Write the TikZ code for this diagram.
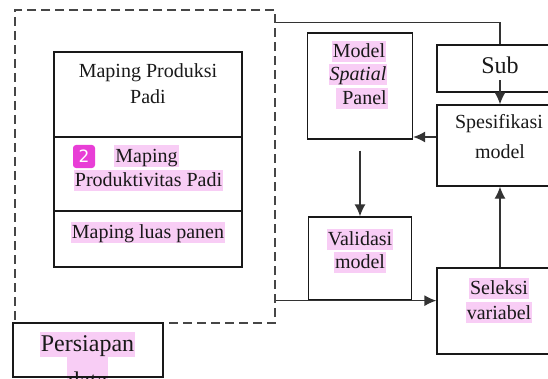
\documentclass[tikz,border=0pt]{standalone}
\usepackage{fontspec}
\setmainfont{Liberation Serif}
\newfontfamily\badgefont{DejaVu Sans}
\usetikzlibrary{arrows.meta}
\definecolor{hlpink}{RGB}{248,205,245}
\definecolor{badgepink}{RGB}{232,62,214}
\definecolor{inkgray}{RGB}{51,51,51}
\definecolor{dashgray}{RGB}{70,70,70}

\begin{document}
\begin{tikzpicture}[x=1pt,y=1pt,
  box/.style={draw=black!90, line width=1.3pt, inner sep=0pt},
  dashbox/.style={draw=dashgray, line width=1.6pt, dash pattern=on 9pt off 5pt, inner sep=0pt},
  lbl/.style={inner xsep=1pt, inner ysep=0pt, text height=17pt, text depth=4pt, font=\fontsize{20}{24}\selectfont, text=black!90},
  hl/.style={lbl, fill=hlpink},
  biglbl/.style={lbl, text height=19pt, text depth=6pt, font=\fontsize{24}{30}\selectfont},
  conn/.style={draw=inkgray, line width=1.3pt},
  arr/.style={conn, -{Latex[length=12pt,width=11pt]}},
  badge/.style={fill=badgepink, rounded corners=3pt, minimum width=22pt, minimum height=23pt, inner sep=0pt, text=white, font=\badgefont\fontsize{17}{17}\selectfont}]
\clip (0,0) rectangle (548,378);

% preparation area
\node[dashbox, minimum width=260pt, minimum height=313pt] (prep) at (145,211.5) {};
\node[box, minimum width=188pt, minimum height=85pt] (produksi) at (148,283.5) {};
\node[box, minimum width=188pt, minimum height=74pt] (produktivitas) at (148,204) {};
\node[box, minimum width=188pt, minimum height=56pt] (luas) at (148,139) {};
\node[lbl] (produksi1) at (148,306.5) {Maping Produksi};
\node[lbl] (produksi2) at (148,280.5) {Padi};
\node[hl] (produktivitas1) at (146.5,222) {Maping};
\node[hl] (produktivitas2) at (148.5,198) {Produktivitas Padi};
\node[badge] (note) at (84,221.5) {2};
\node[hl] (luas1) at (148,146) {Maping luas panen};

\node[biglbl, fill=hlpink] (persiapan1) at (87.5,33.5) {Persiapan};
\node[biglbl, fill=hlpink, text height=31pt, anchor=base] (persiapan2) at (87.5,-10) {data};
\node[box, minimum width=150pt, minimum height=54pt] (persiapan) at (88,28) {};

% model boxes
\node[box, minimum width=105pt, minimum height=106pt] (model) at (360,292) {};
\node[hl] (model1) at (359,326.5) {Model};
\node[hl] (model2) at (358,303.5) {\itshape Spatial};
\node[hl] (model3) at (362,279.5) {~Panel};

\node[box, minimum width=103pt, minimum height=83pt] (valid) at (360,119.5) {};
\node[hl] (valid1) at (360,139) {Validasi};
\node[hl] (valid2) at (360,116) {model};

\node[box, minimum width=126pt, minimum height=47pt] (sub) at (500,309.5) {};
\node[biglbl] (subtxt) at (500,310.5) {Sub};

\node[box, minimum width=126pt, minimum height=81pt] (spes) at (500,232.5) {};
\node[lbl] (spes1) at (499,255.5) {Spesifikasi};
\node[lbl] (spes2) at (500,226.5) {model};

\node[box, minimum width=126pt, minimum height=86pt] (seleksi) at (500,67) {};
\node[hl] (seleksi1) at (499,90) {Seleksi};
\node[hl] (seleksi2) at (499,65.5) {variabel};

% connectors
\draw[conn] (prep.north east) ++(0,-13) -| (sub.north);
\draw[arr] (subtxt.south) -- (spes.north);
\draw[arr] (spes.west) ++(0,8.5) coordinate (s1) -- (s1 -| model.east);
\draw[arr] ([yshift=-11pt]model.south) -- (valid.north);
\draw[arr] (prep.east |- valid.south) -- (seleksi.west |- valid.south);
\draw[arr] (seleksi.north) -- (spes.south);
\end{tikzpicture}
\end{document}
